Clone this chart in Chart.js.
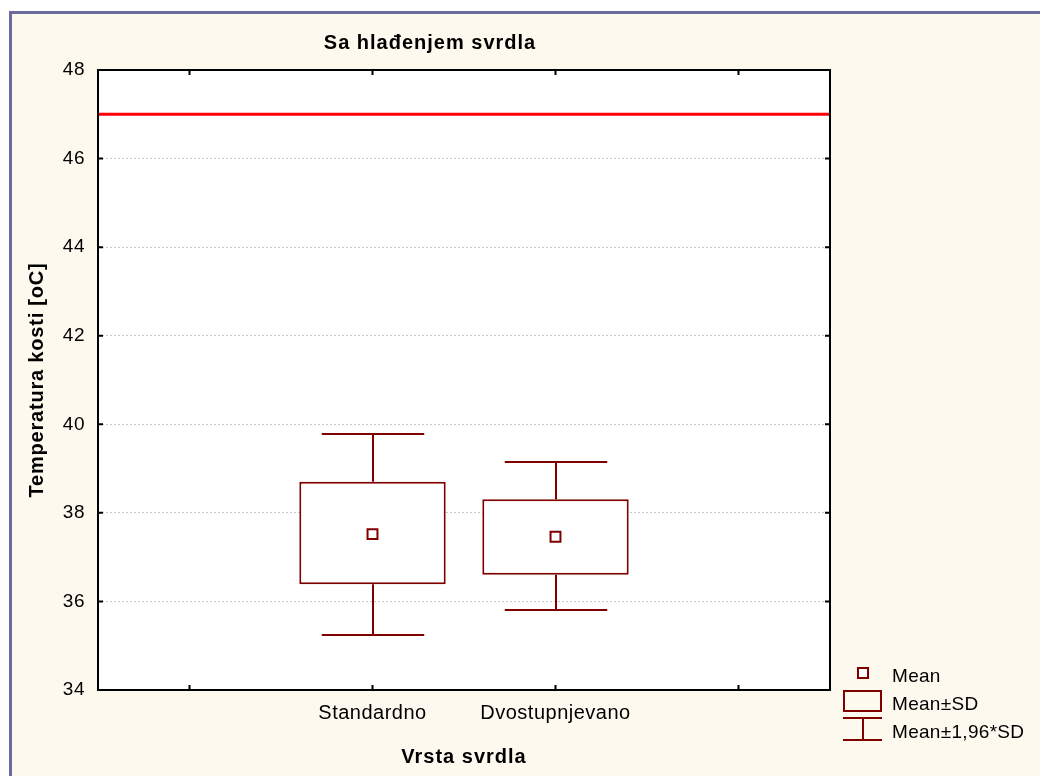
<!DOCTYPE html>
<html>
<head>
<meta charset="utf-8">
<script src="https://cdn.jsdelivr.net/npm/chart.js@4.4.0/dist/chart.umd.min.js"></script>
<style>
  body { margin: 0; background: #fff; }
  #wrap { position: relative; width: 1040px; height: 776px; overflow: hidden; }
  #panel { position: absolute; left: 9px; top: 11px; right: 0; bottom: 0; background: #fef9ee;
           border-top: 3px solid #6b6b9e; border-left: 3px solid #6b6b9e; }
  #chart { position: absolute; left: 0; top: 0; }
</style>
</head>
<body>
<div id="wrap">
  <div id="panel"></div>
  <canvas id="chart" width="1040" height="776"></canvas>
</div>
<script>
// temperatura kosti po vrsti svrdla
const groups = ['Standardno', 'Dvostupnjevano'];
const groupPos = [2, 3];
const xTickPos = [1, 2, 3, 4];
const yTicks = [34, 36, 38, 40, 42, 44, 46, 48];
const means = [37.52, 37.46];
const sdLow = [36.39, 36.60];
const sdHigh = [38.70, 38.31];
const ciLow = [35.24, 35.81];
const ciHigh = [39.78, 39.14];
const limitTemp = 47;
const legendLabels = ['Mean', 'Mean\u00b1SD', 'Mean\u00b11,96*SD'];

const DARK = '#800000';
const FONT = "'Liberation Sans', Arial, sans-serif";

// plot area background + letter spacing for tick labels
const plotBg = {
  id: 'plotBg',
  beforeDraw(chart) {
    const { ctx, chartArea: a } = chart;
    ctx.save();
    ctx.fillStyle = '#fff';
    ctx.fillRect(a.left, a.top, a.right - a.left, a.bottom - a.top);
    ctx.restore();
    ctx.letterSpacing = '0.5px';
  }
};

// whiskers (mean ± 1,96*SD), reference line, frame with inward ticks
const overlays = {
  id: 'overlays',
  afterDatasetsDraw(chart) {
    const { ctx, chartArea: a, scales: { x, y } } = chart;
    const bars = chart.getDatasetMeta(0).data;
    ctx.save();
    ctx.strokeStyle = DARK;
    ctx.lineWidth = 2;
    groupPos.forEach((p, i) => {
      const px = Math.round(x.getPixelForValue(p));
      const half = bars[i].width * 0.35;
      const top = Math.round(y.getPixelForValue(ciHigh[i]));
      const bot = Math.round(y.getPixelForValue(ciLow[i]));
      const bTop = y.getPixelForValue(sdHigh[i]);
      const bBot = y.getPixelForValue(sdLow[i]);
      ctx.beginPath();
      ctx.moveTo(px, bTop); ctx.lineTo(px, top);
      ctx.moveTo(px - half, top); ctx.lineTo(px + half, top);
      ctx.moveTo(px, bBot); ctx.lineTo(px, bot);
      ctx.moveTo(px - half, bot); ctx.lineTo(px + half, bot);
      ctx.stroke();
    });

    // granica 47 oC
    const ly = y.getPixelForValue(limitTemp);
    ctx.strokeStyle = '#ff0000';
    ctx.lineWidth = 3;
    ctx.beginPath();
    ctx.moveTo(a.left, ly);
    ctx.lineTo(a.right + 1, ly);
    ctx.stroke();

    ctx.strokeStyle = '#000';
    ctx.lineWidth = 2;
    ctx.strokeRect(a.left, a.top, a.right - a.left, a.bottom - a.top);
    ctx.beginPath();
    yTicks.forEach(v => {
      const py = y.getPixelForValue(v);
      ctx.moveTo(a.left, py); ctx.lineTo(a.left + 5, py);
      ctx.moveTo(a.right, py); ctx.lineTo(a.right - 5, py);
    });
    xTickPos.forEach(v => {
      const px = x.getPixelForValue(v);
      ctx.moveTo(px, a.top); ctx.lineTo(px, a.top + 5);
      ctx.moveTo(px, a.bottom); ctx.lineTo(px, a.bottom - 5);
    });
    ctx.stroke();
    ctx.restore();
  },
  afterDraw(chart) {
    const { ctx, chartArea: a } = chart;
    ctx.save();
    ctx.fillStyle = '#000';

    // naslovi
    ctx.font = 'bold 20px ' + FONT;
    ctx.letterSpacing = '1px';
    ctx.textAlign = 'center';
    ctx.textBaseline = 'alphabetic';
    ctx.fillText('Sa hlađenjem svrdla', 430, 49);
    ctx.fillText('Vrsta svrdla', (a.left + a.right) / 2, 763);

    ctx.save();
    ctx.translate(43, (a.top + a.bottom) / 2);
    ctx.rotate(-Math.PI / 2);
    ctx.font = 'bold 20px ' + FONT;
    ctx.letterSpacing = '0.8px';
    ctx.fillText('Temperatura kosti [oC]', 0, 0);
    ctx.restore();

    // legenda
    ctx.strokeStyle = DARK;
    ctx.lineWidth = 2;
    ctx.fillStyle = '#fff';
    ctx.fillRect(858, 668, 10, 10);
    ctx.strokeRect(858, 668, 10, 10);
    ctx.strokeRect(844, 691, 37, 20);
    ctx.beginPath();
    ctx.moveTo(843, 718); ctx.lineTo(882, 718);
    ctx.moveTo(863, 718); ctx.lineTo(863, 740);
    ctx.moveTo(843, 740); ctx.lineTo(882, 740);
    ctx.stroke();

    ctx.fillStyle = '#000';
    ctx.font = '19px ' + FONT;
    ctx.letterSpacing = '0.3px';
    ctx.textAlign = 'left';
    [682, 710, 738].forEach((by, i) => ctx.fillText(legendLabels[i], 892, by));
    ctx.restore();
  }
};

new Chart(document.getElementById('chart'), {
  data: {
    datasets: [{
      type: 'bar',
      order: 2,
      data: groupPos.map((p, i) => ({ x: p, y: [sdLow[i], sdHigh[i]] })),
      backgroundColor: '#fff',
      borderColor: DARK,
      borderWidth: 2,
      borderSkipped: false,
      categoryPercentage: 0.8,
      barPercentage: 1
    }, {
      type: 'scatter',
      order: 1,
      data: groupPos.map((p, i) => ({ x: p, y: means[i] })),
      pointStyle: 'rect',
      pointRadius: 7,
      pointBackgroundColor: '#fff',
      pointBorderColor: DARK,
      pointBorderWidth: 2
    }]
  },
  options: {
    responsive: false,
    animation: false,
    layout: { padding: { top: 70, right: 210, bottom: 0, left: 0 } },
    plugins: { legend: { display: false }, tooltip: { enabled: false } },
    scales: {
      x: {
        type: 'linear',
        offset: false,
        min: 0.5,
        max: 4.5,
        afterBuildTicks: s => { s.ticks = xTickPos.map(v => ({ value: v })); },
        afterFit: s => { s.height = 86; },
        grid: { display: false, drawTicks: false },
        border: { display: false },
        ticks: {
          padding: 11,
          color: '#000',
          font: { family: FONT, size: 20 },
          maxRotation: 0,
          autoSkip: false,
          callback: v => {
            const i = groupPos.indexOf(v);
            return i >= 0 ? groups[i] : '';
          }
        }
      },
      y: {
        min: 34,
        max: 48,
        afterBuildTicks: s => { s.ticks = yTicks.map(v => ({ value: v })); },
        afterFit: s => { s.width = 98; },
        grid: { color: '#c8c8c8', lineWidth: 1, drawTicks: false },
        border: { display: false, dash: [2, 2] },
        ticks: {
          padding: 13,
          color: '#000',
          font: { family: FONT, size: 19 }
        }
      }
    }
  },
  plugins: [plotBg, overlays]
});
</script>
</body>
</html>
